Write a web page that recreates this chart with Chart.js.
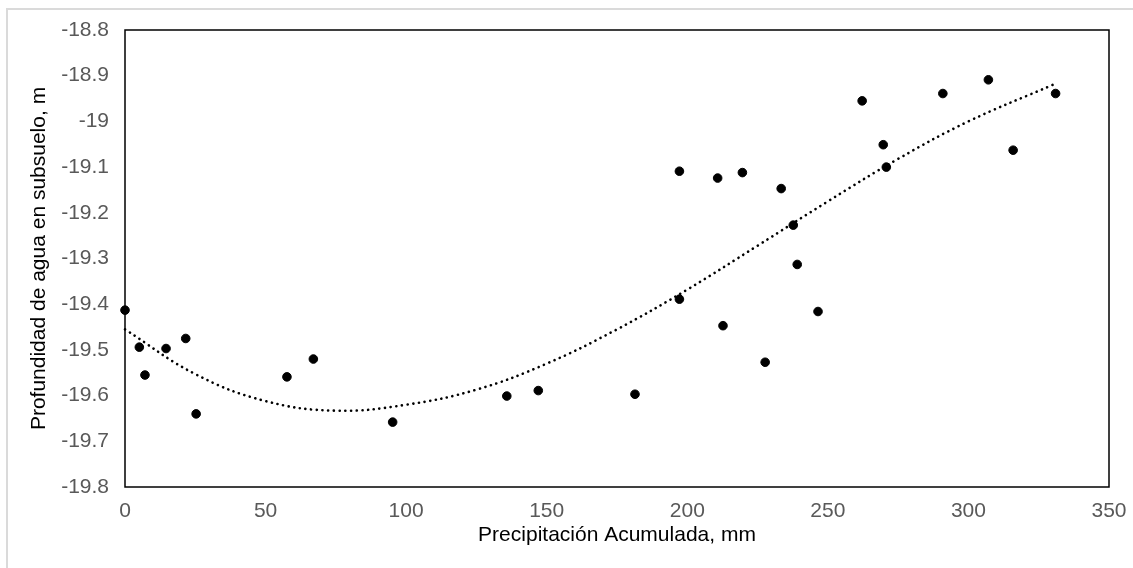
<!DOCTYPE html>
<html>
<head>
<meta charset="utf-8">
<script src="https://cdn.jsdelivr.net/npm/chart.js@4"></script>
<style>
html, body { margin: 0; padding: 0; background: #fff; }
#wrap { position: relative; width: 1133px; height: 568px; overflow: hidden; }
#frame { position: absolute; left: 6px; top: 8px; width: 1150px; height: 600px; border: 2px solid #dadada; box-sizing: border-box; }
#chart { position: absolute; left: 0; top: 0; }
</style>
</head>
<body>
<div id="wrap">
	<div id="frame"></div>
	<canvas id="chart" width="1133" height="568"></canvas>
</div>
<script>
// measured points (precipitation mm, depth m)
const precip = [0, 5.1, 7.1, 14.6, 21.6, 25.3, 57.6, 67.0, 95.2, 135.8, 147.0, 181.4, 197.2, 197.2, 210.8, 212.7, 219.6, 227.7, 233.4, 237.7, 239.1, 246.5, 262.2, 269.7, 270.8, 290.9, 307.1, 315.9, 331.0];
const depth = [-19.413, -19.494, -19.555, -19.497, -19.475, -19.640, -19.559, -19.520, -19.658, -19.601, -19.589, -19.597, -19.109, -19.389, -19.124, -19.447, -19.112, -19.527, -19.147, -19.227, -19.313, -19.416, -18.955, -19.051, -19.100, -18.939, -18.909, -19.063, -18.939];

// dotted trend line
const trendX = [0, 25, 50, 75, 100, 125, 150, 175, 200, 225, 250, 275, 300, 330];
const trendY = [-19.455, -19.553, -19.612, -19.633, -19.620, -19.587, -19.530, -19.455, -19.368, -19.272, -19.175, -19.082, -19.000, -18.920];

const xTicks = [0, 50, 100, 150, 200, 250, 300, 350];
const yTicks = [-18.8, -18.9, -19, -19.1, -19.2, -19.3, -19.4, -19.5, -19.6, -19.7, -19.8];
const yTickLabels = ['-18.8', '-18.9', '-19', '-19.1', '-19.2', '-19.3', '-19.4', '-19.5', '-19.6', '-19.7', '-19.8'];

const tickFont = { family: '"Liberation Sans", Arial, sans-serif', size: 21 };
const titleFont = { family: '"Liberation Sans", Arial, sans-serif', size: 21 };

const frameBox = {
	id: 'frameBox',
	beforeDatasetsDraw(chart) {
		const { ctx, chartArea: a } = chart;
		ctx.save();
		ctx.strokeStyle = '#000';
		ctx.lineWidth = 1.5;
		ctx.strokeRect(a.left, a.top, a.right - a.left, a.bottom - a.top);
		ctx.restore();
	},
};

const ctx = document.getElementById('chart').getContext('2d');
new Chart(ctx, {
	type: 'scatter',
	data: {
		datasets: [
			{
				label: 'Profundidad',
				data: precip.map((p, i) => ({ x: p, y: depth[i] })),
				backgroundColor: '#000',
				borderColor: '#000',
				pointRadius: 4.3,
				pointHoverRadius: 4.3,
				clip: false,
			},
			{
				label: 'Tendencia',
				data: trendX.map((p, i) => ({ x: p, y: trendY[i] })),
				showLine: true,
				borderColor: '#000',
				borderWidth: 2.6,
				borderDash: [0.1, 5.6],
				borderCapStyle: 'round',
				pointRadius: 0,
				pointHoverRadius: 0,
				tension: 0.4,
				clip: false,
			},
		],
	},
	options: {
		responsive: false,
		animation: false,
		events: [],
		layout: { padding: { top: 30, right: 24, left: 0, bottom: 0 } },
		plugins: {
			legend: { display: false },
			tooltip: { enabled: false },
		},
		scales: {
			x: {
				type: 'linear',
				min: 0,
				max: 350,
				afterBuildTicks: s => { s.ticks = xTicks.map(v => ({ value: v })); },
				afterFit: s => { s.height = 81; s.paddingLeft = 0; s.paddingRight = 0; },
				grid: { display: false, drawTicks: false },
				border: { display: false },
				ticks: { color: '#595959', font: tickFont, padding: 12, maxRotation: 0 },
				title: { display: true, text: 'Precipitación Acumulada, mm', color: '#000', font: titleFont, padding: { top: 0, bottom: 20 } },
			},
			y: {
				type: 'linear',
				min: -19.8,
				max: -18.8,
				afterBuildTicks: s => { s.ticks = yTicks.map(v => ({ value: v })); },
				afterFit: s => { s.width = 125; s.paddingTop = 0; s.paddingBottom = 0; },
				grid: { display: false, drawTicks: false },
				border: { display: false },
				ticks: {
					color: '#595959',
					font: tickFont,
					padding: 16,
					callback: (v, i) => yTickLabels[i],
				},
				title: { display: true, text: 'Profundidad de agua en subsuelo, m', color: '#000', font: titleFont, padding: { top: 27, bottom: 0 } },
			},
		},
	},
	plugins: [frameBox],
});
</script>
</body>
</html>
